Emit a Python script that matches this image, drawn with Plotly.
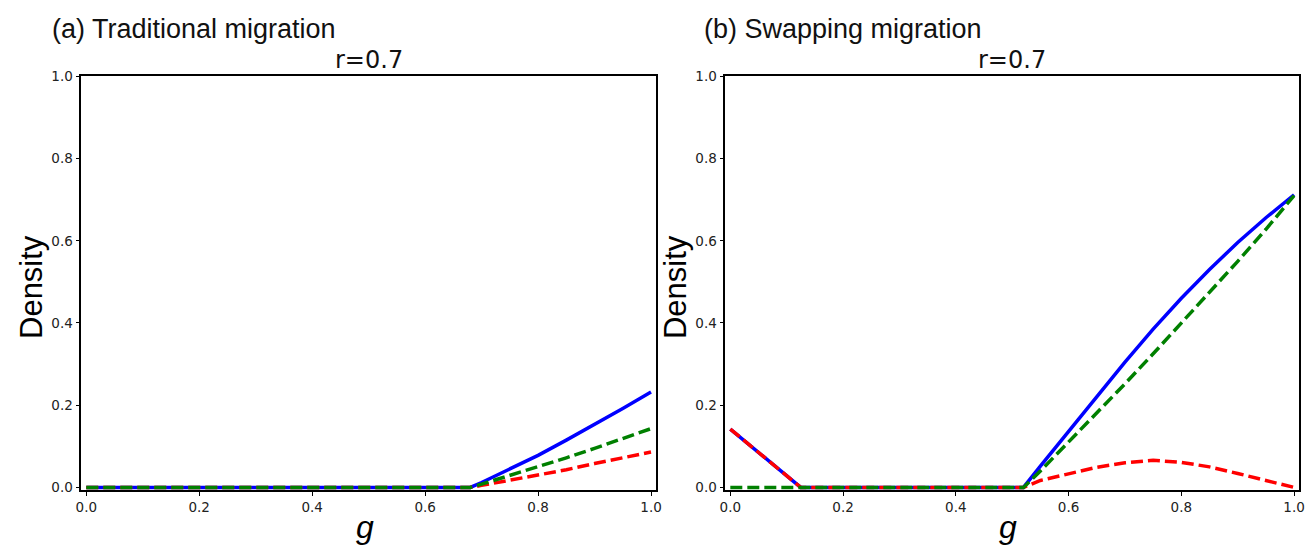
import plotly.graph_objects as go

# ---- data -------------------------------------------------------------
# (a) Traditional migration
g_a = [0.0, 0.1, 0.2, 0.3, 0.4, 0.5, 0.6, 0.68, 0.7, 0.75, 0.8, 0.85, 0.9, 0.95, 1.0]
blue_a = [0, 0, 0, 0, 0, 0, 0, 0, 0.012, 0.044, 0.078, 0.115, 0.153, 0.192, 0.232]
green_a = [0, 0, 0, 0, 0, 0, 0, 0, 0.008, 0.029, 0.050, 0.072, 0.095, 0.119, 0.143]
red_a = [0, 0, 0, 0, 0, 0, 0, 0, 0.005, 0.017, 0.030, 0.043, 0.058, 0.072, 0.086]

# (b) Swapping migration
g_b = [0.0, 0.05, 0.1, 0.125, 0.2, 0.3, 0.4, 0.52, 0.55, 0.6, 0.65, 0.7,
       0.75, 0.8, 0.85, 0.9, 0.95, 1.0]
blue_b = [0.142, 0.085, 0.028, 0, 0, 0, 0, 0, 0.052, 0.137, 0.222, 0.305,
          0.385, 0.460, 0.530, 0.596, 0.656, 0.712]
green_b = [0, 0, 0, 0, 0, 0, 0, 0, 0.040, 0.110, 0.180, 0.252,
           0.325, 0.400, 0.474, 0.550, 0.628, 0.710]
red_b = [0.142, 0.085, 0.028, 0, 0, 0, 0, 0, 0.017, 0.034, 0.049, 0.060,
         0.066, 0.061, 0.050, 0.034, 0.017, 0.0]

tick_vals = [0.0, 0.2, 0.4, 0.6, 0.8, 1.0]
tick_text = ["0.0", "0.2", "0.4", "0.6", "0.8", "1.0"]

panel_titles = ["(a) Traditional migration", "(b) Swapping migration"]
sub_title = "r=0.7"

# ---- figure -----------------------------------------------------------
W, H = 1311, 549
fig = go.Figure()

DASH = "12px,5px"
LW = 3.5

def add_panel(xa, ya, g, blue, red, green):
    fig.add_trace(go.Scatter(x=g, y=blue, mode="lines", xaxis=xa, yaxis=ya,
                             line=dict(color="#0000ff", width=LW), showlegend=False))
    fig.add_trace(go.Scatter(x=g, y=red, mode="lines", xaxis=xa, yaxis=ya,
                             line=dict(color="#ff0000", width=LW, dash=DASH), showlegend=False))
    fig.add_trace(go.Scatter(x=g, y=green, mode="lines", xaxis=xa, yaxis=ya,
                             line=dict(color="#008000", width=LW, dash=DASH), showlegend=False))

add_panel("x", "y", g_a, blue_a, red_a, green_a)
add_panel("x2", "y2", g_b, blue_b, red_b, green_b)

# pixel geometry of the two axes boxes
boxes = [(76, 656), (726, 1305)]
top_px, bot_px = 70, 494
ydom = [(H - bot_px) / H, (H - top_px) / H]

axis_common = dict(
    showgrid=False, zeroline=False, showline=True, mirror=True,
    linecolor="black", linewidth=1.6, ticks="outside", ticklen=4,
    tickwidth=1.3, tickcolor="black",
    tickvals=tick_vals, ticktext=tick_text,
    tickfont=dict(family="DejaVu Sans", size=13.5, color="#222222"),
)

layout_axes = {}
for i, (l, r) in enumerate(boxes):
    sfx = "" if i == 0 else str(i + 1)
    layout_axes["xaxis" + sfx] = dict(axis_common, domain=[l / W, r / W],
                                      range=[-0.0088, 1.0088],
                                      anchor="y" + sfx)
    layout_axes["yaxis" + sfx] = dict(axis_common, domain=ydom,
                                      range=[-0.007, 1.0],
                                      anchor="x" + sfx)

fig.update_layout(
    width=W, height=H,
    margin=dict(l=0, r=0, t=0, b=0),
    paper_bgcolor="white", plot_bgcolor="white",
    **layout_axes,
)

title_x = [44, 702]
for i, (l, r) in enumerate(boxes):
    cx = (l + r) / 2
    # panel heading
    fig.add_annotation(text=panel_titles[i], xref="paper", yref="paper",
                       x=title_x[i] / W, y=1 - 22 / H, xanchor="left", yanchor="middle",
                       showarrow=False,
                       font=dict(family="Liberation Sans, Arial", size=27, color="#111111"))
    # parameter label above axes
    fig.add_annotation(text=sub_title, xref="paper", yref="paper",
                       x=cx / W, y=1 - 53 / H, xanchor="center", yanchor="middle",
                       showarrow=False,
                       font=dict(family="DejaVu Sans", size=24, color="#111111"))
    # y label
    fig.add_annotation(text="Density", xref="paper", yref="paper",
                       x=(l - 51) / W, y=1 - 286 / H, xanchor="center", yanchor="middle",
                       textangle=-90, showarrow=False,
                       font=dict(family="Liberation Sans, Arial", size=31, color="black"))
    # x label
    fig.add_annotation(text="<i>g</i>", xref="paper", yref="paper",
                       x=(cx - 4) / W, y=1 - 532 / H, xanchor="center", yanchor="middle",
                       showarrow=False,
                       font=dict(family="Liberation Sans, Arial", size=32, color="black"))

fig.write_html("out.html")
